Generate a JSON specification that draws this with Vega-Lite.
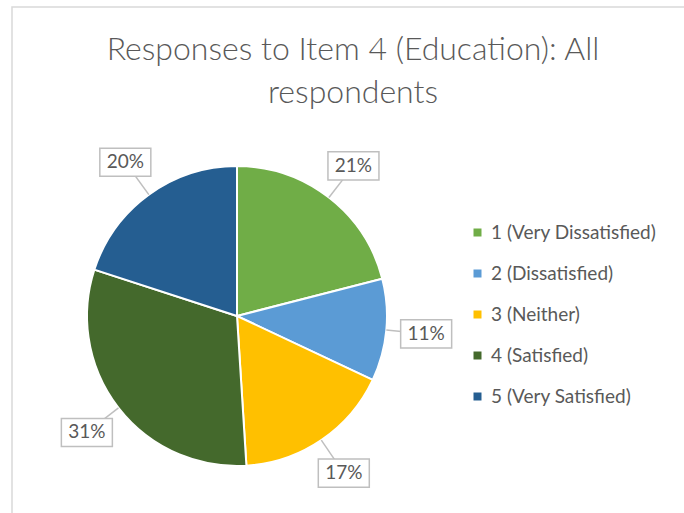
{
  "$schema": "https://vega.github.io/schema/vega-lite/v6.json",
  "width": 672,
  "height": 506,
  "autosize": {"type": "none"},
  "padding": {"left": 12, "top": 7, "right": 0, "bottom": 0},
  "background": "white",
  "config": {"view": {"stroke": null}, "font": "Lato"},
  "title": {
    "text": ["Responses to Item 4 (Education): All", "respondents"],
    "fontSize": 32,
    "font": "Lato",
    "fontWeight": 300,
    "color": "#595959",
    "anchor": "middle",
    "frame": "group",
    "baseline": "top",
    "offset": 0,
    "dy": 104,
    "dx": 5,
    "lineHeight": 43
  },
  "data": {
    "values": [
      {"category": "1 (Very Dissatisfied)", "value": 21},
      {"category": "2 (Dissatisfied)", "value": 11},
      {"category": "3 (Neither)", "value": 17},
      {"category": "4 (Satisfied)", "value": 31},
      {"category": "5 (Very Satisfied)", "value": 20}
    ]
  },
  "transform": [
    {"window": [{"op": "sum", "field": "value", "as": "cum"}], "sort": [{"field": "category", "order": "ascending"}], "frame": [null, 0]},
    {"joinaggregate": [{"op": "sum", "field": "value", "as": "total"}]},
    {"calculate": "2*PI*(datum.cum - datum.value/2)/datum.total", "as": "mid"},
    {"calculate": "datum.value/datum.total", "as": "frac"},
    {"calculate": "190*sin(datum.mid)", "as": "lx"},
    {"calculate": "190*cos(datum.mid)", "as": "ly"},
    {"calculate": "150*sin(datum.mid)", "as": "rx"},
    {"calculate": "150*cos(datum.mid)", "as": "ry"}
  ],
  "layer": [
    {
      "data": {"values": [{"x0": -225, "x1": 480, "y0": 309, "y1": -220}]},
      "mark": {"type": "rect", "fill": null, "stroke": "#D9D9D9", "strokeWidth": 1.5},
      "encoding": {
        "x": {"field": "x0", "type": "quantitative", "scale": {"domain": [-225, 447], "nice": false, "zero": false}, "axis": null},
        "x2": {"field": "x1"},
        "y": {"field": "y0", "type": "quantitative", "scale": {"domain": [-197, 309], "nice": false, "zero": false}, "axis": null},
        "y2": {"field": "y1"}
      }
    },
    {
      "mark": {"type": "arc", "outerRadius": 150, "stroke": "white", "strokeWidth": 2},
      "encoding": {
        "theta": {"field": "value", "type": "quantitative", "stack": true},
        "color": {
          "field": "category",
          "type": "nominal",
          "sort": ["1 (Very Dissatisfied)", "2 (Dissatisfied)", "3 (Neither)", "4 (Satisfied)", "5 (Very Satisfied)"],
          "scale": {
            "domain": ["1 (Very Dissatisfied)", "2 (Dissatisfied)", "3 (Neither)", "4 (Satisfied)", "5 (Very Satisfied)"],
            "range": ["#70AD47", "#5B9BD5", "#FFC000", "#44692C", "#255E91"]
          },
          "legend": {
            "title": null,
            "orient": "none",
            "legendX": 456,
            "legendY": 216,
            "symbolType": "square",
            "symbolSize": 64,
            "symbolStrokeWidth": 0,
            "labelFontSize": 19,
            "labelFont": "Lato",
            "labelColor": "#595959",
            "labelLimit": 300,
            "rowPadding": 21,
            "labelOffset": 4
          }
        },
        "x": {"datum": 0, "type": "quantitative", "scale": {"domain": [-225, 447], "nice": false, "zero": false}, "axis": null},
        "y": {"datum": 0, "type": "quantitative", "scale": {"domain": [-197, 309], "nice": false, "zero": false}, "axis": null}
      }
    },
    {
      "mark": {"type": "rule", "color": "#BFBFBF", "strokeWidth": 1.5},
      "encoding": {
        "x": {"field": "rx", "type": "quantitative", "scale": {"domain": [-225, 447], "nice": false, "zero": false}, "axis": null},
        "y": {"field": "ry", "type": "quantitative", "scale": {"domain": [-197, 309], "nice": false, "zero": false}, "axis": null},
        "x2": {"field": "lx"},
        "y2": {"field": "ly"}
      }
    },
    {
      "mark": {"type": "point", "shape": "M-1,-0.55H1V0.55H-1Z", "size": 2601, "filled": true, "fill": "white", "stroke": "#BFBFBF", "strokeWidth": 1.5, "opacity": 1},
      "encoding": {
        "x": {"field": "lx", "type": "quantitative", "scale": {"domain": [-225, 447], "nice": false, "zero": false}, "axis": null},
        "y": {"field": "ly", "type": "quantitative", "scale": {"domain": [-197, 309], "nice": false, "zero": false}, "axis": null}
      }
    },
    {
      "mark": {"type": "text", "fontSize": 19, "font": "Lato", "color": "#595959", "align": "center", "baseline": "middle"},
      "encoding": {
        "x": {"field": "lx", "type": "quantitative", "scale": {"domain": [-225, 447], "nice": false, "zero": false}, "axis": null},
        "y": {"field": "ly", "type": "quantitative", "scale": {"domain": [-197, 309], "nice": false, "zero": false}, "axis": null},
        "text": {"field": "frac", "type": "quantitative", "format": ".0%"}
      }
    }
  ]
}
